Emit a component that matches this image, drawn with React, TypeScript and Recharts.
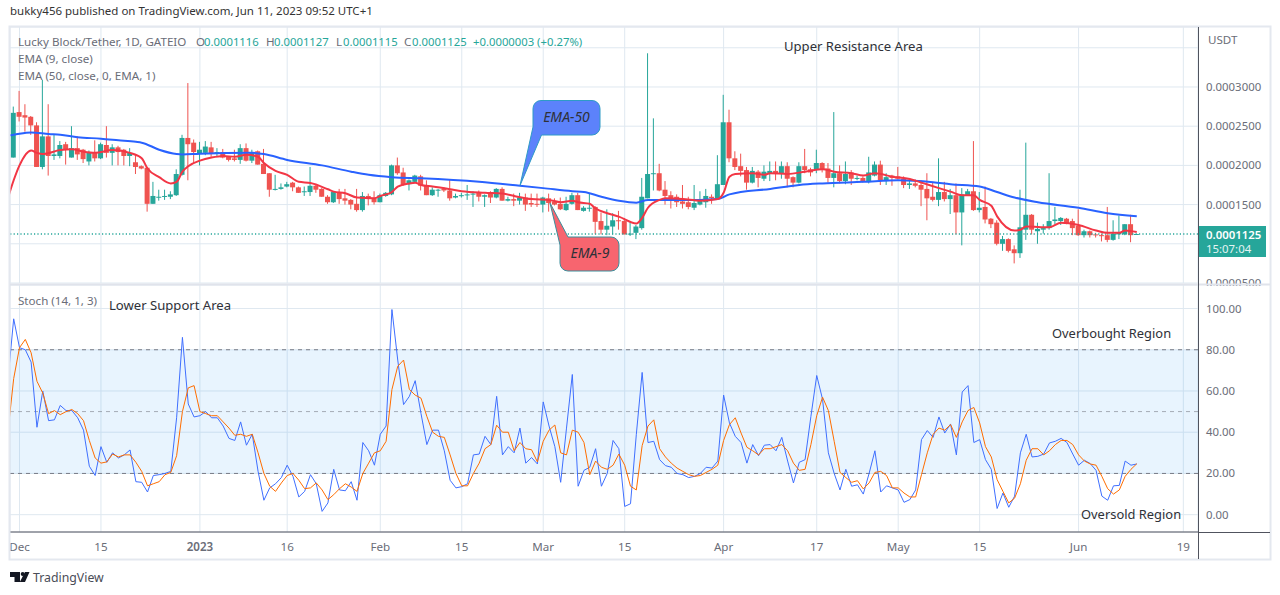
import {
  ComposedChart,
  Bar,
  Line,
  XAxis,
  YAxis,
  CartesianGrid,
  ReferenceLine,
  ReferenceArea,
} from 'recharts';

const FONT = '"Noto Sans", sans-serif';
const UP = '#26a69a';
const DOWN = '#ef5350';
const GRID = '#dfe8f0';
const TEXT = '#6a6d78';

// prices are in millionths of USDT, the first candle is Nov 30 (day -1), Dec 1 is day 0
const firstCandleDay = -1;
const opens = [
  210, 268, 264, 262, 251, 198, 237, 212, 212, 227,
  210, 222, 220, 205, 216, 209, 226, 216, 223, 220,
  212, 204, 199, 197, 151, 159, 160, 160, 162, 188,
  235, 229, 215, 216, 223, 215, 217, 211, 209, 207,
  222, 206, 218, 202, 190, 169, 170, 173, 178, 172,
  166, 166, 174, 170, 160, 153, 166, 158, 156, 151,
  143, 161, 158, 153, 161, 163, 200, 191, 176, 179,
  186, 174, 162, 168, 170, 168, 159, 161, 162, 163,
  166, 160, 164, 159, 170, 155, 157, 155, 159, 152,
  151, 150, 158, 154, 151, 143, 151, 162, 142, 145,
  147, 129, 118, 122, 130, 129, 112, 114, 120, 158,
  189, 190, 169, 162, 160, 154, 153, 146, 150, 153,
  160, 158, 175, 255, 209, 199, 194, 178, 192, 183,
  190, 193, 190, 199, 185, 178, 199, 195, 194, 203,
  196, 184, 190, 180, 191, 183, 184, 179, 187, 201,
  180, 187, 186, 183, 175, 177, 175, 170, 160, 156,
  166, 157, 162, 140, 162, 167, 143, 147, 132, 127,
  100, 106, 93, 88, 118, 137, 116, 118, 120, 129,
  129, 132, 129, 123, 111, 116, 112, 111, 111, 105,
  112, 112, 125, 111.6,
];
const highs = [
  275, 295, 278, 263, 255, 309, 278, 239, 231, 230,
  250, 237, 221, 219, 232, 229, 250, 227, 225, 221,
  222, 213, 200, 198, 179, 169, 169, 167, 195, 239,
  305, 233, 230, 231, 230, 222, 221, 212, 220, 227,
  228, 220, 219, 221, 190, 188, 177, 179, 179, 173,
  173, 198, 175, 171, 162, 167, 170, 170, 157, 170,
  166, 164, 167, 164, 166, 201, 210, 197, 182, 188,
  188, 181, 172, 170, 172, 182, 164, 165, 175, 167,
  168, 163, 167, 171, 172, 160, 164, 165, 164, 164,
  164, 160, 164, 158, 159, 160, 165, 165, 148, 164,
  148, 140, 144, 139, 142, 133, 128, 124, 184, 343,
  260, 202, 180, 167, 163, 175, 160, 175, 167, 170,
  163, 213, 290, 271, 218, 215, 198, 198, 194, 200,
  205, 205, 205, 204, 186, 204, 221, 197, 220, 204,
  203, 268, 200, 205, 194, 187, 186, 211, 205, 206,
  190, 188, 198, 186, 181, 182, 181, 190, 179, 209,
  179, 170, 177, 171, 170, 231, 166, 173, 133, 130,
  110, 107, 98, 169, 229, 138, 127, 125, 190, 147,
  134, 133, 132, 144, 118, 117, 114, 113, 147, 130,
  136, 125, 137, 112.7,
];
const lows = [
  210, 256, 243, 239, 198, 195, 187, 207, 209, 201,
  210, 207, 203, 200, 205, 208, 210, 200, 200, 200,
  199, 189, 195, 141, 151, 155, 156, 157, 161, 187,
  181, 203, 200, 213, 211, 212, 209, 205, 205, 202,
  205, 203, 201, 189, 160, 168, 169, 172, 167, 165,
  161, 161, 165, 160, 151, 152, 151, 150, 144, 141,
  141, 149, 150, 153, 160, 162, 188, 174, 168, 178,
  168, 162, 161, 160, 166, 155, 158, 159, 156, 147,
  154, 147, 152, 158, 155, 154, 148, 150, 142, 147,
  147, 140, 141, 149, 143, 142, 150, 143, 141, 141,
  112, 112, 111, 112, 118, 112, 110, 106, 118, 158,
  168, 167, 150, 145, 147, 145, 144, 143, 149, 146,
  151, 156, 175, 204, 194, 186, 169, 177, 172, 180,
  180, 181, 183, 172, 172, 177, 190, 186, 190, 191,
  178, 172, 177, 176, 175, 181, 178, 177, 186, 175,
  175, 174, 182, 171, 170, 172, 148, 130, 154, 148,
  154, 138, 112, 98, 161, 142, 140, 126, 120, 98,
  91, 89, 75, 82, 105, 112, 100, 113, 118, 125,
  124, 125, 111, 110, 108, 108, 108, 103, 102, 104,
  106, 111, 102, 111.5,
];
const closes = [
  267, 262, 261, 251, 198, 237, 212, 214, 226, 220,
  222, 214, 208, 216, 209, 227, 216, 223, 217, 212,
  216, 198, 196, 151, 161, 160, 161, 163, 189, 235,
  227, 217, 220, 224, 215, 217, 210, 207, 207, 222,
  206, 217, 201, 189, 169, 170, 172, 176, 172, 165,
  167, 174, 169, 160, 153, 166, 157, 155, 150, 143,
  161, 157, 153, 162, 165, 200, 190, 176, 181, 187,
  174, 162, 169, 169, 168, 158, 161, 162, 163, 164,
  160, 162, 159, 170, 155, 157, 155, 159, 150, 150,
  150, 159, 152, 150, 144, 151, 162, 143, 146, 146,
  128, 118, 123, 130, 129, 112, 113, 122, 160, 189,
  190, 168, 161, 156, 153, 151, 147, 152, 157, 161,
  158, 176, 255, 209, 198, 193, 178, 193, 184, 192,
  193, 189, 199, 183, 178, 199, 194, 191, 203, 195,
  184, 190, 180, 189, 183, 184, 179, 191, 201, 181,
  185, 184, 183, 175, 177, 174, 169, 158, 156, 166,
  157, 162, 140, 163, 167, 143, 146, 131, 125, 100,
  106, 91, 88, 121, 137, 118, 119, 120, 129, 131,
  133, 126, 120, 111, 116, 111, 111, 110, 105, 113,
  115, 125, 111, 112.5,
];

// [day, value], read where the curve could be read
const ema50Points: [number, number][] = [
  [-2, 238], [-1, 239], [2, 242], [5, 240], [7, 239], [10, 236], [14, 234], [17, 232], [20, 230], [21, 229],
  [24, 220], [27, 214.5], [28, 214], [31, 215], [40, 216], [42, 214.5], [46, 207], [52, 200], [57, 192], [60, 188],
  [64, 185], [69, 183.5], [79, 179], [86, 174], [90, 171], [95, 167], [97, 166], [100, 160], [103, 155], [106, 152.5],
  [108, 156], [117, 156], [120, 157], [122, 163], [129, 170], [134, 175], [138, 177], [145, 179], [151, 181], [157, 178.5],
  [160, 176], [165, 173], [168, 166], [171, 159], [175, 153], [182, 146], [187, 139], [192, 135],
];
const ema9Points: [number, number][] = [
  [-2, 158], [-1, 181], [0, 200], [2, 219], [3, 216], [4, 214.5], [7, 219.5], [9, 220.5], [11, 217.5], [13, 216],
  [16, 219.5], [19, 216], [21, 209], [22, 196], [24, 185], [26, 177], [27, 179], [28, 192], [29, 199], [31, 206],
  [33, 210], [35, 212], [37, 211], [39, 213.5], [41, 211], [42, 203], [44, 193], [46, 188], [48, 179], [50, 177.5],
  [53, 169.5], [54, 166.5], [56, 164.5], [58, 159], [61, 158], [62, 161], [64, 166], [65, 173], [67, 177], [68, 178],
  [69, 175], [71, 173], [74, 169.5], [76, 167], [80, 165], [83, 164], [85, 161], [88, 157], [91, 156], [93, 153],
  [95, 155], [96, 153], [98, 151], [99, 145], [101, 139], [103, 134.6], [106, 126], [107, 133], [108, 146], [110, 156],
  [111, 158], [114, 157], [117, 155], [120, 157], [121, 165], [122, 185.6], [123, 189], [126, 190], [128, 188], [129, 190],
  [132, 189], [135, 192], [138, 195], [140, 192], [143, 190], [145, 187], [147, 190], [150, 185.6], [153, 182.6], [155, 178],
  [158, 171], [160, 166.5], [162, 162], [164, 162], [165, 156], [167, 148.6], [168, 135], [171, 117], [172, 118], [173, 122],
  [177, 121], [179, 127], [182, 124], [185, 117], [187, 114], [189, 114], [190, 117], [192, 115],
];

// stochastic, one value per day starting at day -2
const firstStochDay = -2;
const stochK = [
  65, 95, 81, 80, 74, 42.4, 60, 45.6, 46, 53,
  50.5, 50.5, 47, 41, 23.5, 19, 33, 25.4, 30, 27.5,
  29, 31.4, 16, 15.7, 11, 19, 19.4, 20, 21, 47,
  86, 53.7, 47.4, 48, 50, 47, 47, 43, 37, 36,
  45, 33.7, 39, 21, 7, 13, 15, 18, 24, 18.6,
  8.6, 11.3, 19.4, 15, 1.6, 5.7, 22, 12, 11.6, 16,
  7, 35, 31, 24, 39, 43, 99.5, 75, 53.4, 57.4,
  65, 49, 34, 41, 41, 31, 16.7, 13, 13.6, 15,
  29, 29.4, 38, 34, 57.4, 29, 33, 30, 42, 25,
  27.7, 24.6, 54.7, 43, 33, 15.7, 42, 68, 13.8, 21.5,
  23, 32, 13.8, 20, 36, 32, 4, 5.3, 39, 69,
  35, 35.6, 26.7, 23.8, 23, 20, 19.4, 18, 18.6, 20,
  23, 22.6, 26, 58, 44.5, 38, 35, 25, 34, 28.6,
  33.7, 34, 31, 37.5, 26, 15.4, 25.4, 26.7, 47.7, 67.5,
  56, 30, 20, 12, 22, 13.8, 14.5, 10, 20, 31,
  11, 14, 13, 12, 6, 7.3, 12, 36.4, 40.8, 37.5,
  47.4, 39.6, 44, 29, 59.5, 62.6, 35, 36.4, 26.7, 22,
  3, 10.5, 3.6, 9, 30, 39, 28, 28.3, 29.4, 34.8,
  35.6, 37, 35, 29.4, 24, 26.4, 24.8, 21.5, 9, 7,
  14, 14.2, 26, 24, 24.6,
];
const stochD = [
  40, 66, 81, 85, 78.5, 64.7, 59, 49, 50.5, 48.5,
  50, 51, 49, 45.6, 36, 27.5, 25, 25.6, 29.4, 28,
  29, 29, 25.4, 21, 14, 15, 16, 19.4, 20.5, 28.6,
  50, 61.5, 62.6, 50, 49, 48, 48, 45, 42, 38.5,
  39, 38, 39, 30, 20, 13.8, 11.3, 15.4, 19, 20,
  16.7, 12.6, 13, 15.4, 12, 7.3, 9.7, 12.6, 15, 13.4,
  11.3, 20, 25, 30, 31, 35.6, 60.7, 72, 75, 60.7,
  58, 56.5, 47.7, 40, 38, 37.5, 29, 20, 14, 14,
  20, 25, 32, 34, 43.4, 40, 40, 31, 35, 32,
  31.5, 25.6, 35.6, 41, 43.5, 30, 29, 41, 40, 35,
  19.4, 26, 23, 22, 24, 29.4, 24, 13.8, 12, 33.5,
  43, 46, 32, 28, 25, 22.6, 21, 19.4, 18.6, 19,
  20.5, 22, 24, 36, 43.7, 47, 39.6, 32.7, 31, 29,
  32, 32, 33, 34, 31, 25, 21.5, 22, 34, 48,
  57, 50.5, 35.6, 20.5, 18, 15.7, 16.5, 12.5, 15.4, 20.5,
  21, 19, 13, 13, 10.5, 8.6, 8.6, 19.4, 30, 39,
  42, 41, 43.7, 37.5, 45, 50.5, 52, 44.5, 33, 28,
  17, 11.3, 5.7, 8, 15, 26.4, 32, 32, 29, 31,
  34, 36, 36, 34, 29, 26, 24.6, 24, 18.6, 12.6,
  10, 12, 18.6, 22, 24.7,
];

const priceTicks = [50, 100, 150, 200, 250, 300, 350];
const hiddenPriceLabels = [100, 350]; // covered by the last price tag and the USDT label
const stochTicks = [0, 20, 40, 60, 80, 100];
const dayTicks = [0, 14, 31, 46, 62, 76, 90, 104, 121, 137, 151, 165, 182, 200];
const dayLabels = ['Dec', '15', '2023', '16', 'Feb', '15', 'Mar', '15', 'Apr', '17', 'May', '15', 'Jun', '19'];
const lastPrice = 112.5;

const dayDomain: [number, number] = [-1.632, 202.52];

const priceRows: any[] = [];
for (let day = -2; day <= 192; day++) {
  const row: any = { day };
  const i = day - firstCandleDay;
  if (i >= 0) {
    row.open = opens[i];
    row.high = highs[i];
    row.low = lows[i];
    row.close = closes[i];
    row.range = [lows[i], highs[i]];
  }
  const e50 = ema50Points.find((p) => p[0] === day);
  const e9 = ema9Points.find((p) => p[0] === day);
  if (e50) row.ema50 = e50[1];
  if (e9) row.ema9 = e9[1];
  priceRows.push(row);
}

const stochRows = stochK.map((k, i) => ({ day: firstStochDay + i, k, d: stochD[i] }));

function Candle(props: any) {
  const { x, y, width, height, payload } = props;
  if (payload.range === undefined) return null;
  const { open, high, low, close } = payload;
  const top = Math.min(y, y + height);
  const unit = Math.abs(height) / (high - low);
  const yOf = (v: number) => top + (high - v) * unit;
  const color = close >= open ? UP : DOWN;
  const bodyTop = yOf(Math.max(open, close));
  const bodyH = Math.max(1, yOf(Math.min(open, close)) - bodyTop);
  const cx = x + width / 2;
  return (
    <g>
      <line x1={cx} x2={cx} y1={top} y2={top + Math.abs(height)} stroke={color} strokeWidth={1} />
      <rect x={x} y={bodyTop} width={width} height={bodyH} fill={color} />
    </g>
  );
}

function PriceTick(props: any) {
  const { x, y, payload } = props;
  if (hiddenPriceLabels.includes(payload.value)) return null;
  return (
    <text x={x} y={y + 4} fill={TEXT} fontSize={11.4} fontFamily={FONT}>
      {(payload.value / 1e6).toFixed(7)}
    </text>
  );
}

function StochTick(props: any) {
  const { x, y, payload } = props;
  return (
    <text x={x} y={y + 4} fill={TEXT} fontSize={11.4} fontFamily={FONT}>
      {payload.value.toFixed(2)}
    </text>
  );
}

function DayTick(props: any) {
  const { x, y, payload } = props;
  const label = dayLabels[dayTicks.indexOf(payload.value)];
  return (
    <text
      x={x}
      y={y + 11}
      textAnchor="middle"
      fill={TEXT}
      fontSize={11.6}
      fontFamily={FONT}
      fontWeight={label === '2023' ? 600 : 400}
    >
      {label}
    </text>
  );
}

function Overlay() {
  const label = { fontFamily: FONT, fontSize: 13.1, fill: '#2f3138' };
  const legend = { fontFamily: FONT, fontSize: 11.6, fill: TEXT };
  const val = { fontFamily: FONT, fontSize: 11.3, fill: UP };
  return (
    <svg width={1280} height={595} style={{ position: 'absolute', left: 0, top: 0, pointerEvents: 'none' }}>
      <rect x={9.5} y={26.5} width={1261} height={533} fill="none" stroke="#e4e8ef" strokeWidth={2} />
      <line x1={10} x2={1270} y1={284.5} y2={284.5} stroke="#e0e3eb" strokeWidth={2} />
      <line x1={1198.5} x2={1198.5} y1={27} y2={559} stroke="#50535e" strokeWidth={1} />
      <line x1={1198} x2={1270} y1={532.5} y2={532.5} stroke="#50535e" strokeWidth={1} />

      <text x={10} y={15} fontFamily={FONT} fontSize={11.5} fill="#333">
        bukky456 published on TradingView.com, Jun 11, 2023 09:52 UTC+1
      </text>

      <text x={18} y={46} {...legend}>Lucky Block/Tether, 1D, GATEIO</text>
      <text x={196} y={46} {...legend}>O</text>
      <text x={204} y={46} {...val}>0.0001116</text>
      <text x={266} y={46} {...legend}>H</text>
      <text x={274} y={46} {...val}>0.0001127</text>
      <text x={336} y={46} {...legend}>L</text>
      <text x={343} y={46} {...val}>0.0001115</text>
      <text x={404} y={46} {...legend}>C</text>
      <text x={412} y={46} {...val}>0.0001125</text>
      <text x={473} y={46} {...val}>+0.0000003 (+0.27%)</text>
      <text x={18} y={63} {...legend}>EMA (9, close)</text>
      <text x={18} y={80} {...legend}>EMA (50, close, 0, EMA, 1)</text>
      <text x={18} y={305} {...legend}>Stoch (14, 1, 3)</text>
      <text x={1208} y={44} {...legend}>USDT</text>

      <text x={784} y={51} {...label}>Upper Resistance Area</text>
      <text x={109} y={310} {...label}>Lower Support Area</text>
      <text x={1052} y={338} fontFamily={FONT} fontSize={12.9} fill="#2f3138">Overbought Region</text>
      <text x={1081} y={519} fontFamily={FONT} fontSize={12.9} fill="#2f3138">Oversold Region</text>

      <path
        d="M541 100.5H592a8 8 0 0 1 8 8V127a8 8 0 0 1-8 8H541.5L520 185.5L533 127V108.5a8 8 0 0 1 8-8Z"
        fill="#5c82fb"
        stroke="#2e9bc6"
      />
      <text x={566.5} y={122} textAnchor="middle" fontFamily={FONT} fontSize={14} fontStyle="italic" fill="#2f3138">
        EMA-50
      </text>
      <path
        d="M568 237H611a8 8 0 0 1 8 8V263a8 8 0 0 1-8 8H568a8 8 0 0 1-8-8V245L550 203L568 237Z"
        fill="#f7656f"
        stroke="#3b8f9c"
      />
      <text x={590} y={258} textAnchor="middle" fontFamily={FONT} fontSize={14} fontStyle="italic" fill="#2f3138">
        EMA-9
      </text>

      <rect x={1199} y={226} width={67} height={31} fill={UP} />
      <text x={1206} y={238.5} fontFamily={FONT} fontSize={11.4} fontWeight={600} fill="#fff">0.0001125</text>
      <text x={1206} y={253} fontFamily={FONT} fontSize={11.4} fill="#e4f4f2">15:07:04</text>

      <path d="M10 572H20V582H14.5V577H10ZM25 572H29.5L25 582H19.8Z" fill="#131722" />
      <circle cx={22.7} cy={574} r={2} fill="#131722" />
      <text x={33} y={582} fontFamily={FONT} fontSize={12.3} fill="#4a4d57">TradingView</text>
    </svg>
  );
}

export default function App() {
  return (
    <div style={{ position: 'absolute', left: 0, top: 0, width: 1280, height: 595, background: '#fff', overflow: 'hidden' }}>
      <div style={{ position: 'absolute', left: 10, top: 27 }}>
        <ComposedChart width={1260} height={259} data={priceRows} margin={{ top: 0, right: 0, bottom: 3, left: 0 }}>
          <CartesianGrid stroke={GRID} />
          <XAxis type="number" dataKey="day" domain={dayDomain} ticks={dayTicks} allowDataOverflow hide />
          <YAxis
            orientation="right"
            width={72}
            domain={[50, 376.5]}
            ticks={priceTicks}
            allowDataOverflow
            axisLine={false}
            tickLine={false}
            tick={<PriceTick />}
            interval={0}
          />
          <ReferenceLine y={lastPrice} stroke={UP} strokeWidth={1.3} strokeDasharray="1.2 2.2" />
          <Bar dataKey="range" barSize={5} shape={<Candle />} isAnimationActive={false} />
          <Line dataKey="ema50" type="monotone" stroke="#2962ff" strokeWidth={2} dot={false} connectNulls isAnimationActive={false} />
          <Line dataKey="ema9" type="monotone" stroke="#f23645" strokeWidth={2} dot={false} connectNulls isAnimationActive={false} />
        </ComposedChart>
      </div>
      <div style={{ position: 'absolute', left: 10, top: 285 }}>
        <ComposedChart width={1260} height={274} data={stochRows} margin={{ top: 0, right: 0, bottom: 0, left: 0 }}>
          <ReferenceArea y1={20} y2={80} fill="#2196f3" fillOpacity={0.1} stroke="none" />
          <CartesianGrid stroke={GRID} />
          <XAxis
            type="number"
            dataKey="day"
            domain={dayDomain}
            ticks={dayTicks}
            allowDataOverflow
            height={27}
            interval={0}
            stroke="#50535e"
            tickLine={false}
            tick={<DayTick />}
          />
          <YAxis
            orientation="right"
            width={72}
            domain={[-8.4, 111.4]}
            ticks={stochTicks}
            allowDataOverflow
            axisLine={false}
            tickLine={false}
            tick={<StochTick />}
            interval={0}
          />
          <ReferenceLine y={80} stroke="#787b86" strokeDasharray="4 4" />
          <ReferenceLine y={50} stroke="#787b86" strokeOpacity={0.6} strokeDasharray="4 4" />
          <ReferenceLine y={20} stroke="#787b86" strokeDasharray="4 4" />
          <Line dataKey="k" type="linear" stroke="#3f6fff" strokeWidth={1} dot={false} isAnimationActive={false} />
          <Line dataKey="d" type="linear" stroke="#ff6d00" strokeWidth={1} dot={false} isAnimationActive={false} />
        </ComposedChart>
      </div>
      <Overlay />
    </div>
  );
}
